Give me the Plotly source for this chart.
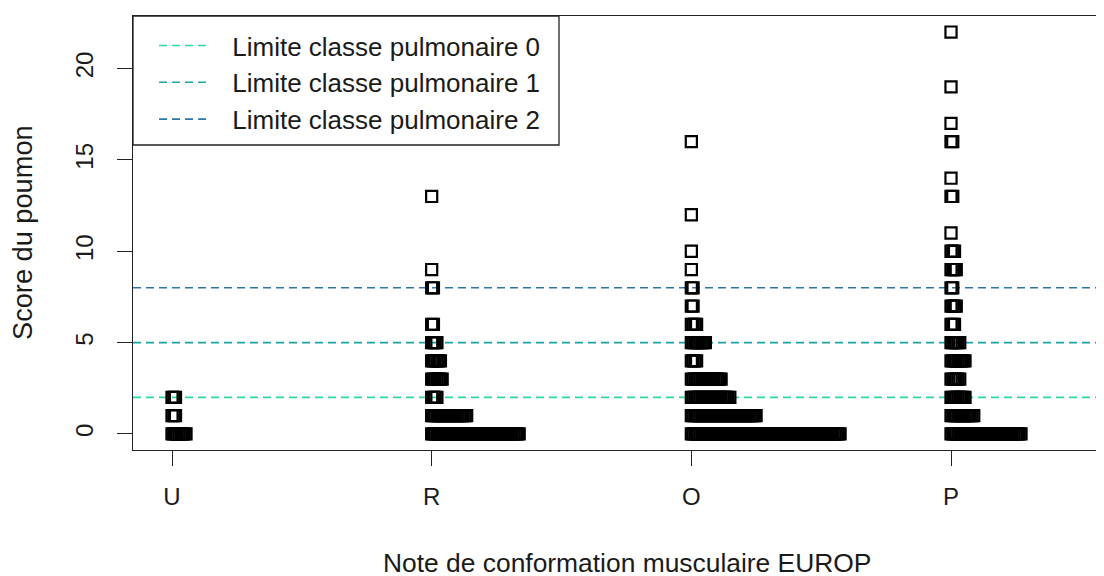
import plotly.graph_objects as go

# note EUROP (x) and number of animals per lung score (stacked like R stripchart)
categories = ["U", "R", "O", "P"]

scores_U = [0, 1, 2]
counts_U = [9, 3, 3]

scores_R = [0, 1, 2, 3, 4, 5, 6, 8, 9, 13]
counts_R = [51, 21, 4, 7, 6, 4, 2, 2, 1, 1]

scores_O = [0, 1, 2, 3, 4, 5, 6, 7, 8, 9, 10, 12, 16]
counts_O = [86, 38, 23, 18, 4, 9, 4, 2, 2, 1, 1, 1, 1]

scores_P = [0, 1, 2, 3, 4, 5, 6, 7, 8, 9, 10, 11, 13, 14, 16, 17, 19, 22]
counts_P = [41, 14, 9, 6, 9, 6, 3, 4, 2, 4, 3, 1, 2, 1, 2, 1, 1, 1]

limites = [2, 5, 8]
noms_limites = ["Limite classe pulmonaire 0", "Limite classe pulmonaire 1", "Limite classe pulmonaire 2"]
couleurs = ["#2ad9a0", "#1ba3a6", "#2a78a8"]

groupes = [(scores_U, counts_U), (scores_R, counts_R), (scores_O, counts_O), (scores_P, counts_P)]

xmin, xmax = 0.8498, 4.620
ymin, ymax = -0.88, 22.88
step = 0.00674  # stacking offset between identical values

px = []
py = []
for i, (sc, ct) in enumerate(groupes):
    for s, n in zip(sc, ct):
        for k in range(n):
            px.append(i + 1 + k * step)
            py.append(s)

fig = go.Figure()

for lim, nom, col in zip(limites, noms_limites, couleurs):
    fig.add_trace(go.Scatter(
        x=[xmin, xmax], y=[lim, lim],
        mode="lines",
        line=dict(color=col, width=1.6, dash="8px,5px"),
        name="\u2002\u2009" + nom,
    ))

fig.add_trace(go.Scatter(
    x=px, y=py,
    mode="markers",
    marker=dict(symbol="square-open", size=11.1, color="black",
                line=dict(color="black", width=2.2)),
    showlegend=False,
    hoverinfo="skip",
))

font = "Liberation Sans, Arial, sans-serif"

# the page body adds 8px on the left and top
fig.update_layout(
    template="none",
    width=1104, height=576,
    margin=dict(l=125, r=0, t=8, b=134, pad=0),
    plot_bgcolor="white", paper_bgcolor="white",
    font=dict(family=font, size=24, color="#1a1a1a"),
    showlegend=True,
    legend=dict(x=0.0215, y=0.986, xanchor="left", yanchor="top",
                bgcolor="rgba(0,0,0,0)", borderwidth=0,
                font=dict(size=26), itemwidth=50, tracegroupgap=0),
    xaxis=dict(range=[xmin, xmax], tickvals=[1, 2, 3, 4], ticktext=categories,
               showgrid=False, zeroline=False, showline=True, mirror=True,
               automargin=False,
               linecolor="#222", linewidth=1.3,
               ticks="outside", ticklen=15, tickwidth=1.3, tickcolor="#222",
               ticklabelstandoff=10),
    yaxis=dict(range=[ymin, ymax], tickvals=[0, 5, 10, 15, 20],
               showgrid=False, zeroline=False, showline=True,
               automargin=False,
               linecolor="#222", linewidth=1.3,
               ticks="outside", ticklen=15, tickwidth=1.3, tickcolor="#222",
               tickangle=-90, ticklabelstandoff=14),
    shapes=[dict(type="rect", xref="paper", yref="paper",
                 x0=0, x1=426 / 979, y0=1 - 129 / 434, y1=1,
                 line=dict(color="#222", width=1.3), fillcolor="rgba(0,0,0,0)")],
    annotations=[
        dict(text="Note de conformation musculaire EUROP", xref="paper", yref="paper",
             x=0.5, y=0, showarrow=False,
             xanchor="center", yanchor="middle", yshift=-113, xshift=4,
             font=dict(size=26.4)),
        dict(text="Score du poumon", xref="paper", yref="paper", x=0, y=0.5,
             showarrow=False, textangle=-90, xanchor="center", yanchor="middle",
             xshift=-111, font=dict(size=27.2)),
    ],
)

fig.write_html("out.html")
